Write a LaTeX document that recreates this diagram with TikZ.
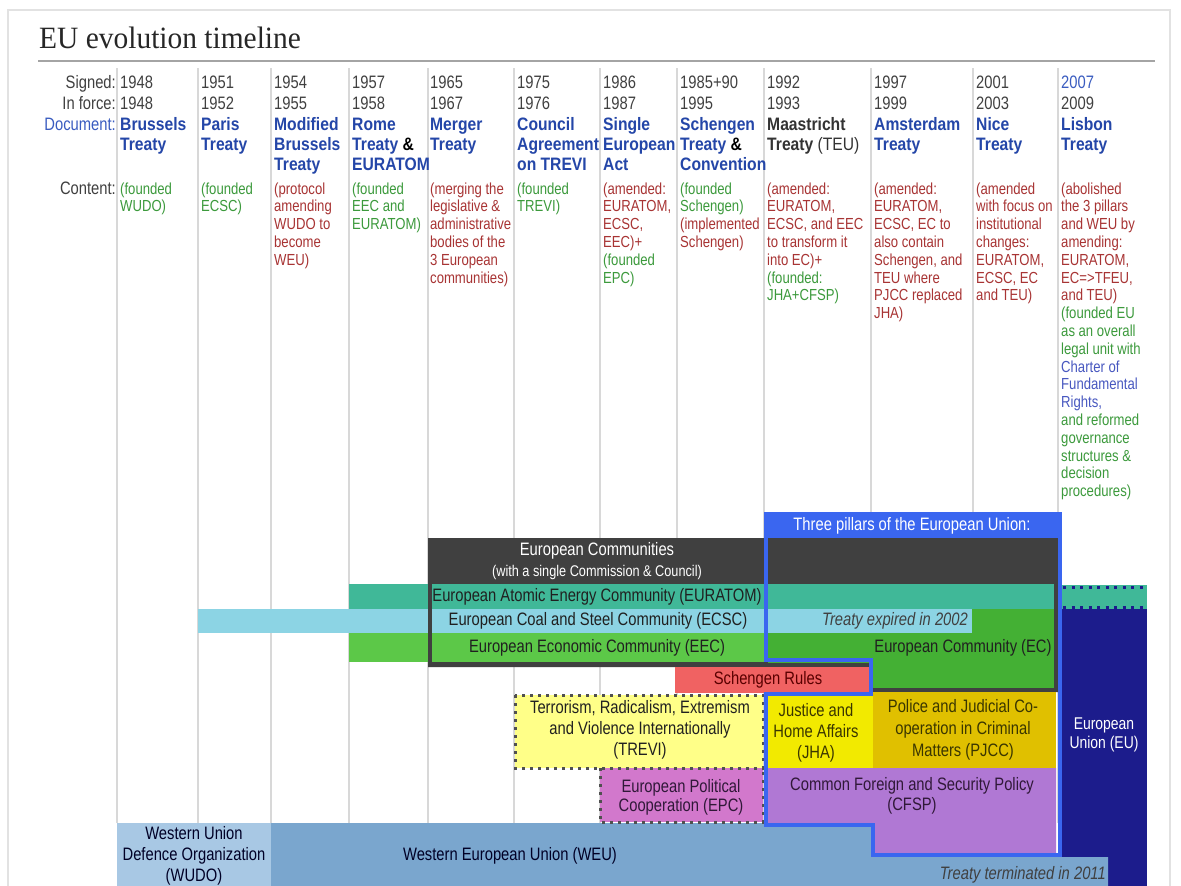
\documentclass[tikz,border=0pt]{standalone}
\usepackage{fontspec}
\setmainfont{Liberation Sans}[FakeStretch=0.82]
\newfontfamily\hbf{Liberation Sans}[FakeStretch=0.87]
\newfontfamily\titlefont{Liberation Serif}[FakeStretch=0.95]
\definecolor{linegrey}{HTML}{D8D8D8}
\definecolor{bordergrey}{HTML}{E2E2E2}
\definecolor{ulgrey}{HTML}{A4A4A4}
\definecolor{numgrey}{HTML}{404040}
\definecolor{docblue}{HTML}{2446A8}
\definecolor{lblblue}{HTML}{3A5CC0}
\definecolor{cred}{HTML}{A83434}
\definecolor{cgreen}{HTML}{3C9A3C}
\definecolor{cblue}{HTML}{4858C0}
\definecolor{darkbox}{HTML}{404040}
\definecolor{pillar}{HTML}{3A66F0}
\definecolor{teal}{HTML}{40B898}
\definecolor{ecsc}{HTML}{8CD4E4}
\definecolor{eec}{HTML}{5CC848}
\definecolor{ec}{HTML}{44B034}
\definecolor{schen}{HTML}{F06262}
\definecolor{trevi}{HTML}{FFFF88}
\definecolor{jha}{HTML}{F2EA00}
\definecolor{pjcc}{HTML}{E0C000}
\definecolor{epc}{HTML}{D278CC}
\definecolor{cfsp}{HTML}{B078D4}
\definecolor{weu}{HTML}{7AA6CE}
\definecolor{wudo}{HTML}{A8C8E4}
\definecolor{eublue}{HTML}{1C1C8C}
\definecolor{bartext}{HTML}{202020}
\definecolor{dotgrey}{HTML}{505050}
\definecolor{olivetext}{HTML}{3A3600}
\definecolor{purpletext}{HTML}{301838}
\newcommand\TL[1]{\hbox{#1}}
\newcommand\Lines[1]{\vtop{\lineskiplimit=-100pt\lineskip=0pt\relax #1}}
\newcommand\GrL[1]{\hbox{\color{cgreen}#1}}
\newcommand\ReL[1]{\hbox{\color{cred}#1}}
\newcommand\BlL[1]{\hbox{\color{cblue}#1}}
\tikzset{
  num/.style={anchor=base west, inner sep=0, font=\fontsize{18}{21}\selectfont, text=numgrey},
  doc/.style={anchor=base west, inner sep=0, font=\hbf\bfseries\fontsize{18}{20}\selectfont, text=docblue},
  cont/.style={anchor=base west, inner sep=0, font=\fontsize{16}{17.8}\selectfont},
  lbl/.style={anchor=base east, inner sep=0, font=\fontsize{18}{21}\selectfont, text=numgrey},
  bar/.style={inner sep=0, align=center, font=\fontsize{18}{21}\selectfont, text=bartext},
  colline/.style={draw=linegrey, line width=2pt},
  dotbox/.style={draw=dotgrey, line width=3pt, dash pattern=on 3pt off 5pt},
  eudots/.style={draw=eublue, line width=3pt, dash pattern=on 3pt off 5.5pt},
}
\newcommand\colhead[6]{%
  \node[num] (#1num) at (#2,88) {\Lines{\TL{#3}\TL{#4}}};
  \node[doc] (#1doc) at (#2,130) {\Lines{#5}};
  \node[cont] (#1cont) at (#2,194) {\Lines{#6}};
}
\begin{document}
\begin{tikzpicture}[x=1pt,y=-1pt]
\useasboundingbox (0,0) rectangle (1181,886);
\fill[white] (0,0) rectangle (1181,886);
% page frame
\draw[bordergrey, line width=1.5pt] (8,886) -- (8,10) -- (1170,10) -- (1170,886);
% title
\node[anchor=base west, inner sep=0, font=\titlefont\fontsize{31}{34}\selectfont, text=black!85] (title) at (39,48) {EU evolution timeline};
\draw[ulgrey, line width=1.8pt] (38,61) -- (1155,61);
% column lines
\foreach \cx in {117,198,271,349,428,514,600,677,764,871,973,1058}
  \draw[colline] (\cx,68) -- (\cx,823);
% labels
\node[lbl] (lsig) at (116,88) {Signed:};
\node[lbl] (lforce) at (116,109) {In force:};
\node[lbl, text=lblblue] (ldoc) at (116,130) {Document:};
\node[lbl] (lcont) at (116,194) {Content:};
% column heads
\colhead{c1}{120}{1948}{1948}{\TL{Brussels}\TL{Treaty}}{\GrL{(founded}\GrL{WUDO)}}
\colhead{c2}{201}{1951}{1952}{\TL{Paris}\TL{Treaty}}{\GrL{(founded}\GrL{ECSC)}}
\colhead{c3}{274}{1954}{1955}{\TL{Modified}\TL{Brussels}\TL{Treaty}}{\ReL{(protocol}\ReL{amending}\ReL{WUDO to}\ReL{become}\ReL{WEU)}}
\colhead{c4}{352}{1957}{1958}{\TL{Rome}\TL{Treaty {\color{black}\&}}\TL{EURATOM}}{\GrL{(founded}\GrL{EEC and}\GrL{EURATOM)}}
\colhead{c5}{430}{1965}{1967}{\TL{Merger}\TL{Treaty}}{\ReL{(merging the}\ReL{legislative \&}\ReL{administrative}\ReL{bodies of the}\ReL{3 European}\ReL{communities)}}
\colhead{c6}{517}{1975}{1976}{\TL{Council}\TL{Agreement}\TL{on TREVI}}{\GrL{(founded}\GrL{TREVI)}}
\colhead{c7}{603}{1986}{1987}{\TL{Single}\TL{European}\TL{Act}}{\ReL{(amended:}\ReL{EURATOM,}\ReL{ECSC,}\ReL{EEC)+}\GrL{(founded}\GrL{EPC)}}
\colhead{c8}{680}{1985+90}{1995}{\TL{Schengen}\TL{Treaty {\color{black}\&}}\TL{Convention}}{\GrL{(founded}\GrL{Schengen)}\ReL{(implemented}\ReL{Schengen)}}
\colhead{c9}{767}{1992}{1993}{\TL{\color{black!80}Maastricht}\TL{\color{black!80}Treaty \mdseries(TEU)}}{\ReL{(amended:}\ReL{EURATOM,}\ReL{ECSC, and EEC}\ReL{to transform it}\ReL{into EC)+}\GrL{(founded:}\GrL{JHA+CFSP)}}
\colhead{c10}{874}{1997}{1999}{\TL{Amsterdam}\TL{Treaty}}{\ReL{(amended:}\ReL{EURATOM,}\ReL{ECSC, EC to}\ReL{also contain}\ReL{Schengen, and}\ReL{TEU where}\ReL{PJCC replaced}\ReL{JHA)}}
\colhead{c11}{976}{2001}{2003}{\TL{Nice}\TL{Treaty}}{\ReL{(amended}\ReL{with focus on}\ReL{institutional}\ReL{changes:}\ReL{EURATOM,}\ReL{ECSC, EC}\ReL{and TEU)}}
\colhead{c12}{1061}{{\color{lblblue}2007}}{2009}{\TL{Lisbon}\TL{Treaty}}{\ReL{(abolished}\ReL{the 3 pillars}\ReL{and WEU by}\ReL{amending:}\ReL{EURATOM,}\ReL{EC=>TFEU,}\ReL{and TEU)}\GrL{(founded EU}\GrL{as an overall}\GrL{legal unit with}\BlL{Charter of}\BlL{Fundamental}\BlL{Rights,}\GrL{and reformed}\GrL{governance}\GrL{structures \&}\GrL{decision}\GrL{procedures)}}
% EU block
\fill[eublue] (1062,609) rectangle (1147,886);
\fill[teal] (1062,585) rectangle (1147,609);
\draw[eudots] (1063,587) -- (1147,587);
\draw[eudots] (1063,607) -- (1147,607);
% WEU / WUDO
\fill[weu] (271,823) -- (873,823) -- (873,857) -- (1108,857) -- (1108,886) -- (271,886) -- cycle;
\fill[wudo] (117,823) rectangle (271,886);
% dark box fill
\fill[darkbox] (428,538) -- (1058,538) -- (1058,692) -- (873,692) -- (873,667) -- (428,667) -- cycle;
% community bars
\fill[teal] (349,584) rectangle (1054,609);
\fill[ec] (768,609) rectangle (1054,688);
\fill[ecsc] (198,609) rectangle (972,633);
\fill[eec] (349,633) rectangle (764,662);
\draw[darkbox, line width=4pt] (430,540) -- (430,665) -- (873,665);
\draw[darkbox, line width=4pt] (1056,540) -- (1056,690) -- (873,690);
% Schengen
\fill[schen] (675,667) rectangle (870,693);
% TREVI and EPC
\fill[trevi] (515,695) rectangle (763,768);
\fill[epc] (600,768) rectangle (763,822);
\draw[dotbox] (515,695) rectangle (763,768);
\draw[dotbox] (600,768) -- (600,822) -- (763,822) -- (763,768);
% JHA, PJCC, CFSP
\fill[jha] (768,695) rectangle (873,768);
\fill[pjcc] (873,692) rectangle (1056,768);
\fill[cfsp] (768,768) -- (1056,768) -- (1056,855) -- (873,855) -- (873,825) -- (768,825) -- cycle;
% three pillars outline
\draw[pillar, line width=4pt, line join=miter] (766,514) -- (1060,514) -- (1060,855) -- (873,855) -- (873,825) -- (766,825) -- (766,694) -- (871,694) -- (871,660) -- (766,660) -- cycle;
\fill[pillar] (764,512) rectangle (1062,538);
% bar labels
\node[bar, text=white] (pillars) at (912,526) {Three pillars of the European Union:};
\node[bar, text=white] (ecom) at (597,551) {European Communities};
\node[bar, text=white, font=\fontsize{15.5}{18}\selectfont] (ecom2) at (597,572) {(with a single Commission \& Council)};
\node[bar] (euratom) at (597,597) {European Atomic Energy Community (EURATOM)};
\node[bar] (ecsclbl) at (598,621) {European Coal and Steel Community (ECSC)};
\node[bar] (eeclbl) at (597,648) {European Economic Community (EEC)};
\node[bar, font=\itshape\fontsize{18}{21}\selectfont, text=black!75] (expired) at (895,621) {Treaty expired in 2002};
\node[bar] (eclbl) at (963,648) {European Community (EC)};
\node[bar, text=red!35!black] (schenlbl) at (768,680) {Schengen Rules};
\node[bar] (trevilbl) at (640,730) {Terrorism, Radicalism, Extremism\\and Violence Internationally\\(TREVI)};
\node[bar, text=olivetext] (jhalbl) at (816,733) {Justice and\\Home Affairs\\(JHA)};
\node[bar, font=\fontsize{18}{22}\selectfont, text=olivetext] (pjcclbl) at (963,730) {Police and Judicial Co-\\operation in Criminal\\Matters (PJCC)};
\node[bar, font=\fontsize{18}{19}\selectfont, text=purpletext] (epclbl) at (681,797) {European Political\\Cooperation (EPC)};
\node[bar, font=\fontsize{18}{20}\selectfont, text=purpletext] (cfsplbl) at (912,796) {Common Foreign and Security Policy\\(CFSP)};
\node[bar, font=\fontsize{17}{18.5}\selectfont, text=white] (eulbl) at (1104,735) {European\\Union (EU)};
\node[bar, text=black!85!blue] (wudolbl) at (194,856) {Western Union\\Defence Organization\\(WUDO)};
\node[bar, text=black!85!blue] (weulbl) at (510,856) {Western European Union (WEU)};
\node[bar, anchor=base east, font=\itshape\fontsize{18}{21}\selectfont, text=black!75] (terminated) at (1106,879) {Treaty terminated in 2011};
\end{tikzpicture}
\end{document}
